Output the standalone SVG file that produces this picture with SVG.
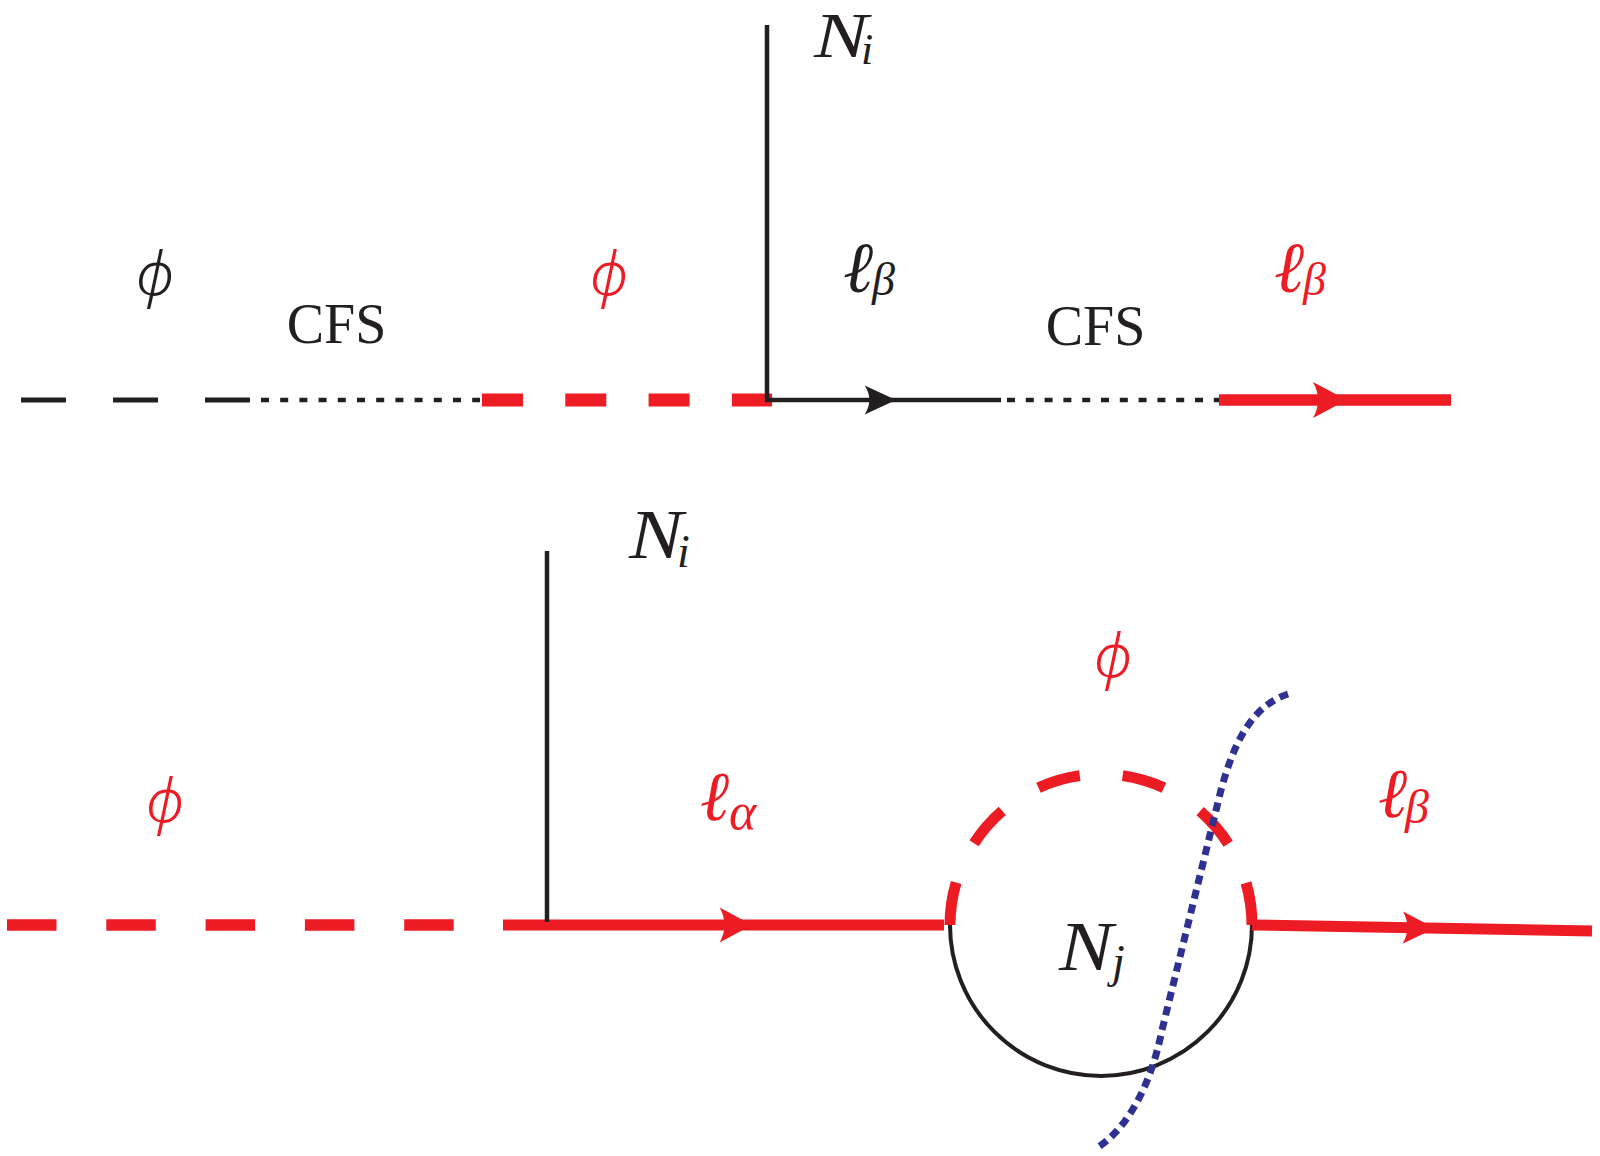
<svg xmlns="http://www.w3.org/2000/svg" xmlns:xlink="http://www.w3.org/1999/xlink" width="1600" height="1156" viewBox="0 0 1600 1156">
<style>
.blk{stroke:#231f20;fill:none}
.red{stroke:#ed1c24;fill:none}
.blue{stroke:#2e3192;fill:none}
.lbl{font-family:"Liberation Serif","DejaVu Serif",serif;font-style:italic}
.grk{font-family:"Liberation Serif","DejaVu Serif",serif;font-style:italic}
.phi{font-family:"Noto Sans","DejaVu Serif",sans-serif;font-style:italic;font-weight:300}
.rm{font-family:"Liberation Serif","DejaVu Serif",serif}
.k{fill:#231f20}
.r{fill:#ed1c24}
</style>
<defs>
<path id="ah" d="M0,0 L-34,-18 Q-24,0 -34,18 Z"/>
</defs>
<rect width="1600" height="1156" fill="#ffffff"/>
<g id="connectors">
<line class="blk" x1="21" y1="400" x2="251" y2="400" stroke-width="5" stroke-dasharray="45 47"/>
<line class="blk" x1="261" y1="400" x2="480" y2="400" stroke-width="4.5" stroke-dasharray="8 11.2"/>
<line class="red" x1="482" y1="400" x2="772" y2="400" stroke-width="13" stroke-dasharray="41 42.3"/>
<line class="blk" x1="767" y1="25" x2="767" y2="400" stroke-width="4.5"/>
<line class="blk" x1="765" y1="400" x2="1001" y2="400" stroke-width="4.5"/>
<use xlink:href="#ah" transform="translate(896,400) scale(0.92,0.8)" fill="#231f20"/>
<line class="blk" x1="1007" y1="400" x2="1222" y2="400" stroke-width="4.5" stroke-dasharray="8 10.8"/>
<line class="red" x1="1219" y1="400" x2="1451" y2="400" stroke-width="11.5"/>
<use xlink:href="#ah" transform="translate(1347,400)" fill="#ed1c24"/>
<line class="red" x1="7" y1="925" x2="455" y2="925" stroke-width="11.5" stroke-dasharray="49.5 49.8"/>
<line class="red" x1="503" y1="925" x2="944" y2="925" stroke-width="11"/>
<line class="blk" x1="547" y1="551" x2="547" y2="922" stroke-width="4.5"/>
<use xlink:href="#ah" transform="translate(752,925) scale(0.95,0.97)" fill="#ed1c24"/>
<path class="blk" d="M950,925 A151,151 0 0 0 1252,925" stroke-width="4"/>
<path class="red" d="M950,925 A151,151 0 0 1 1252,925" stroke-width="11" stroke-dasharray="43.13 43.13"/>
<line class="red" x1="1252" y1="925" x2="1592" y2="931" stroke-width="11"/>
<use xlink:href="#ah" transform="translate(1435,928.2) rotate(1) scale(0.95,0.9)" fill="#ed1c24"/>
<path class="blue" d="M1288,694 C1252,706 1234,742 1221,790 L1162,1030 C1150,1090 1125,1130 1097,1148" stroke-width="7" stroke-dasharray="9 6"/>
</g>
<g id="label-phi-top-black"><text class="phi k" x="155" y="295" font-size="60" text-anchor="middle">ϕ</text></g>
<g id="label-cfs-left"><text class="rm k" x="336.5" y="343" font-size="56" text-anchor="middle">CFS</text></g>
<g id="label-phi-top-red"><text class="phi r" x="609" y="295" font-size="60" text-anchor="middle">ϕ</text></g>
<g id="label-Ni-top"><text class="lbl k" x="814" y="57" font-size="64" textLength="54" lengthAdjust="spacingAndGlyphs">N</text><text class="lbl k" x="861" y="64" font-size="44">i</text></g>
<g id="label-lb-top-black"><text class="lbl k" x="843" y="292" font-size="72">ℓ</text><text class="grk k" x="872" y="295" font-size="46">β</text></g>
<g id="label-cfs-right"><text class="rm k" x="1095.5" y="345" font-size="56" text-anchor="middle">CFS</text></g>
<g id="label-lb-top-red"><text class="lbl r" x="1274" y="292" font-size="72">ℓ</text><text class="grk r" x="1303" y="295" font-size="46">β</text></g>
<g id="label-Ni-bottom"><text class="lbl k" x="629" y="558" font-size="70" textLength="54" lengthAdjust="spacingAndGlyphs">N</text><text class="lbl k" x="677" y="567" font-size="46">i</text></g>
<g id="label-phi-bottom-left"><text class="phi r" x="165" y="822" font-size="60" text-anchor="middle">ϕ</text></g>
<g id="label-la"><text class="lbl r" x="700" y="820" font-size="70">ℓ</text><text class="grk r" x="729" y="829" font-size="52">α</text></g>
<g id="label-phi-loop"><text class="phi r" x="1113" y="677" font-size="60" text-anchor="middle">ϕ</text></g>
<g id="label-lb-bottom"><text class="lbl r" x="1378" y="817" font-size="70">ℓ</text><text class="grk r" x="1405" y="823" font-size="48">β</text></g>
<g id="label-Nj"><text class="lbl k" x="1059" y="970" font-size="70" textLength="54" lengthAdjust="spacingAndGlyphs">N</text><text class="lbl k" x="1112" y="977" font-size="46">j</text></g>
</svg>
